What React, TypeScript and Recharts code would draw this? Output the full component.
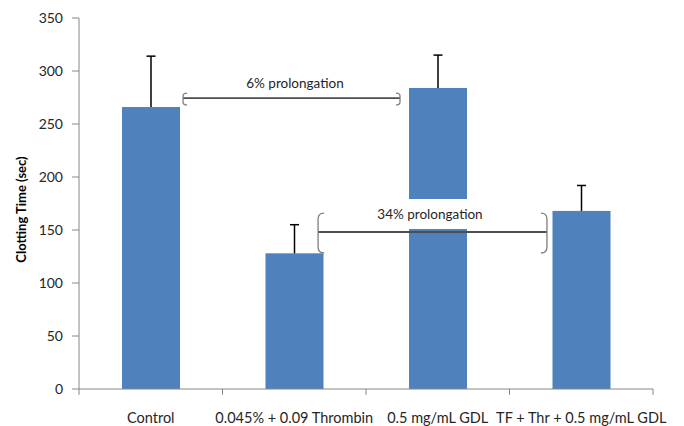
import React from 'react';
import { BarChart, Bar, XAxis, YAxis, ReferenceLine, ReferenceArea } from 'recharts';

const categories = ['Control', '0.045% + 0.09 Thrombin', '0.5 mg/mL GDL', 'TF + Thr + 0.5 mg/mL GDL'];
const clotTimes = [266, 128, 284, 168];
const clotErrors = [48, 27, 31, 24];
const yTicks = [0, 50, 100, 150, 200, 250, 300, 350];
const boundaryTicks = [0, 1, 2, 3, 4];

// annotation positions in data units (numeric x: category i spans [i, i+1])
const ann6 = { x1: 0.725, x2: 2.237, y: 274.5, yLo: 268, yHi: 279.2, textX1: 1.2, textX2: 1.81, textY1: 283, textY2: 294.5, label: '6% prolongation' };
const ann34 = { x1: 1.666, x2: 3.261, y: 148.1, yLo: 128.3, yHi: 166, textX1: 2.028, textX2: 2.864, textY1: 150.9, textY2: 179.2, label: '34% prolongation' };

const data = categories.map((name, i) => ({ name, pos: i + 0.5, value: clotTimes[i], err: clotErrors[i] }));

const BarWithError = (props: any) => {
  const { x, y, width, height, fill, payload } = props;
  const pxPerUnit = payload.value ? height / payload.value : 0;
  const cx = x + width / 2;
  const top = y - payload.err * pxPerUnit;
  return (
    <g>
      <rect x={x} y={y} width={width} height={height} fill={fill} />
      <line x1={cx} y1={y} x2={cx} y2={top} stroke="#000" strokeWidth={1.5} />
      <line x1={cx - 4.5} y1={top} x2={cx + 4.5} y2={top} stroke="#000" strokeWidth={1.5} />
    </g>
  );
};

const LeftBracket = (props: any) => {
  const { x, y, width, height } = props;
  const r = Math.min(width, height / 4);
  const d = `M${x + width},${y} Q${x},${y} ${x},${y + r} L${x},${y + height - r} Q${x},${y + height} ${x + width},${y + height}`;
  return <path d={d} fill="none" stroke="#7f7f7f" strokeWidth={1.3} />;
};

const RightBracket = (props: any) => {
  const { x, y, width, height } = props;
  const r = Math.min(width, height / 4);
  const xr = x + width;
  const d = `M${x},${y} Q${xr},${y} ${xr},${y + r} L${xr},${y + height - r} Q${xr},${y + height} ${x},${y + height}`;
  return <path d={d} fill="none" stroke="#7f7f7f" strokeWidth={1.3} />;
};

const XTick = (props: any) => {
  const { x, y, payload } = props;
  return (
    <text x={x} y={y + 28} textAnchor="middle" dominantBaseline="central" fontSize={14.5} fill="#262626">
      {payload.value}
    </text>
  );
};

const YLabel = (props: any) => {
  const { viewBox } = props;
  const cx = viewBox.x + 2;
  const cy = viewBox.y + viewBox.height / 2 + 6;
  return (
    <text x={cx} y={cy} transform={`rotate(-90, ${cx}, ${cy})`} textAnchor="middle" dominantBaseline="central" fontSize={13} fontWeight="bold" fill="#000">
      Clotting Time (sec)
    </text>
  );
};

const Annotation = ({ a, bw, boxFill }: any) => [
  <ReferenceArea key="box" xAxisId="n" x1={a.textX1} x2={a.textX2} y1={a.textY1} y2={a.textY2} fill={boxFill} fillOpacity={1} stroke="none" ifOverflow="visible" zIndex={350}
    label={{ value: a.label, position: 'center', fontSize: 13.5, fill: '#262626' }} />,
  <ReferenceLine key="line" xAxisId="n" segment={[{ x: a.x1, y: a.y }, { x: a.x2, y: a.y }]} stroke="#4d4d4d" strokeWidth={1.8} ifOverflow="visible" zIndex={400} />,
  <ReferenceArea key="lb" xAxisId="n" x1={a.x1} x2={a.x1 + bw} y1={a.yLo} y2={a.yHi} shape={LeftBracket} ifOverflow="visible" zIndex={400} />,
  <ReferenceArea key="rb" xAxisId="n" x1={a.x2 - bw} x2={a.x2} y1={a.yLo} y2={a.yHi} shape={RightBracket} ifOverflow="visible" zIndex={400} />,
];

export default function App() {
  return (
    <div style={{ position: 'absolute', left: 0, top: 0, width: 684, height: 426, background: '#fff', fontFamily: 'Lato, sans-serif' }}>
      <BarChart width={684} height={426} data={data} margin={{ top: 18, right: 31, left: 19, bottom: 7 }}>
        <XAxis dataKey="name" height={30} axisLine={{ stroke: '#868686' }} tickLine={false} tickSize={0} tickMargin={0} tick={<XTick />} interval={0} />
        <XAxis xAxisId="n" dataKey="pos" type="number" domain={[0, 4]} hide allowDataOverflow />
        <YAxis domain={[0, 350]} ticks={yTicks} width={60} axisLine={{ stroke: '#868686' }} tickLine={{ stroke: '#868686' }} tickSize={7} tickMargin={9}
          tick={{ fontSize: 14, fill: '#262626' }} label={<YLabel />} />
        <Bar dataKey="value" fill="#4F81BD" barSize={58} isAnimationActive={false} shape={<BarWithError />} />
        {boundaryTicks.map((t) => (
          <ReferenceLine key={`bt${t}`} xAxisId="n" segment={[{ x: t, y: 0 }, { x: t, y: -5.5 }]} stroke="#868686" strokeWidth={1} ifOverflow="visible" />
        ))}
        {Annotation({ a: ann6, bw: 0.028, boxFill: 'none' })}
        {Annotation({ a: ann34, bw: 0.042, boxFill: '#ffffff' })}
      </BarChart>
    </div>
  );
}
